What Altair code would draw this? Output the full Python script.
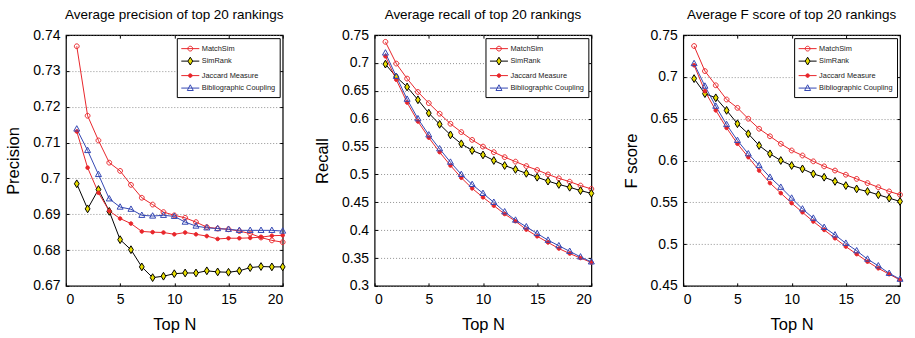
import altair as alt
import pandas as pd

top_n = list(range(1, 21))
methods = ["MatchSim", "SimRank", "Jaccard Measure", "Bibliographic Coupling"]

# Precision
prec_matchsim = [0.7369, 0.7175, 0.7106, 0.7044, 0.7021, 0.6982, 0.6946, 0.6927, 0.6906, 0.6897,
                 0.6890, 0.6878, 0.6864, 0.6860, 0.6858, 0.6853, 0.6846, 0.6835, 0.6827, 0.6822]
prec_simrank = [0.6985, 0.6915, 0.6969, 0.6908, 0.6829, 0.6801, 0.6753, 0.6723, 0.6727, 0.6734,
                0.6736, 0.6736, 0.6742, 0.6739, 0.6738, 0.6742, 0.6751, 0.6754, 0.6753, 0.6753]
prec_jaccard = [0.7131, 0.7030, 0.6960, 0.6909, 0.6888, 0.6874, 0.6852, 0.6850, 0.6849, 0.6844,
                0.6849, 0.6844, 0.6839, 0.6831, 0.6833, 0.6833, 0.6834, 0.6836, 0.6840, 0.6841]
prec_biblio = [0.7138, 0.7078, 0.7011, 0.6943, 0.6920, 0.6914, 0.6897, 0.6895, 0.6897, 0.6894,
               0.6878, 0.6867, 0.6862, 0.6860, 0.6858, 0.6855, 0.6855, 0.6855, 0.6855, 0.6853]

# Recall
rec_matchsim = [0.738, 0.699, 0.672, 0.648, 0.628, 0.609, 0.591, 0.576, 0.562, 0.550,
                0.540, 0.531, 0.523, 0.515, 0.508, 0.500, 0.493, 0.487, 0.480, 0.474]
rec_simrank = [0.698, 0.675, 0.657, 0.634, 0.610, 0.590, 0.571, 0.555, 0.543, 0.535,
               0.525, 0.516, 0.509, 0.502, 0.495, 0.488, 0.482, 0.477, 0.471, 0.466]
rec_jaccard = [0.712, 0.670, 0.629, 0.595, 0.566, 0.540, 0.516, 0.494, 0.475, 0.459,
               0.444, 0.429, 0.416, 0.401, 0.389, 0.378, 0.367, 0.358, 0.350, 0.342]
rec_biblio = [0.718, 0.676, 0.635, 0.600, 0.571, 0.546, 0.522, 0.500, 0.482, 0.466,
              0.450, 0.433, 0.418, 0.406, 0.394, 0.382, 0.372, 0.362, 0.352, 0.343]

# F score
f_matchsim = [0.737, 0.707, 0.690, 0.673, 0.663, 0.650, 0.638, 0.629, 0.620, 0.612,
              0.606, 0.599, 0.593, 0.588, 0.583, 0.578, 0.573, 0.568, 0.563, 0.559]
f_simrank = [0.698, 0.680, 0.675, 0.660, 0.644, 0.632, 0.618, 0.608, 0.600, 0.594,
             0.590, 0.584, 0.580, 0.575, 0.570, 0.566, 0.563, 0.559, 0.555, 0.551]
f_jaccard = [0.714, 0.683, 0.660, 0.639, 0.620, 0.604, 0.588, 0.573, 0.561, 0.549,
             0.538, 0.527, 0.517, 0.507, 0.497, 0.488, 0.479, 0.471, 0.464, 0.457]
f_biblio = [0.716, 0.689, 0.665, 0.643, 0.624, 0.608, 0.594, 0.580, 0.568, 0.555,
            0.542, 0.531, 0.520, 0.511, 0.501, 0.492, 0.482, 0.474, 0.465, 0.458]

x_ticks = [0, 5, 10, 15, 20]
prec_ticks = [0.67, 0.68, 0.69, 0.70, 0.71, 0.72, 0.73, 0.74]
rec_ticks = [0.30, 0.35, 0.40, 0.45, 0.50, 0.55, 0.60, 0.65, 0.70, 0.75]
f_ticks = [0.45, 0.50, 0.55, 0.60, 0.65, 0.70, 0.75]

RED = "#e8262b"
BLUE = "#3447b3"
YELLOW = "#e8de00"
FONT = "Liberation Sans"

stroke_colors = [RED, "black", RED, BLUE]
fill_colors = ["transparent", YELLOW, RED, "transparent"]
point_shapes = [
    "M0.8,0A0.8,0.8 0 1,1 -0.8,0A0.8,0.8 0 1,1 0.8,0Z",
    "M0,-1.3L0.8,0L0,1.3L-0.8,0Z",
    "M0.6,0A0.6,0.6 0 1,1 -0.6,0A0.6,0.6 0 1,1 0.6,0Z",
    "M0,-1.1L1,0.7L-1,0.7Z",
]
# legend glyphs: a short line with the marker in its middle (unit = 6 px)
legend_shapes = [
    "M-1,0H2M0.9,0A0.4,0.4 0 1,1 0.1,0A0.4,0.4 0 1,1 0.9,0Z",
    "M-1,0H0.1M0.9,0H2M0.5,-0.65L0.9,0L0.5,0.65L0.1,0Z",
    "M-1,0H2M0.8,0A0.3,0.3 0 1,1 0.2,0A0.3,0.3 0 1,1 0.8,0Z",
    "M-1,0H2M0.5,-0.55L1,0.4L0,0.4Z",
]


def make_df(series):
    rows = []
    for name, vals in zip(methods, series):
        for n, v in zip(top_n, vals):
            rows.append({"topn": n, "value": v, "method": name, "lmethod": name})
    return pd.DataFrame(rows)


def panel(series, title, ytitle, ydomain, yticks):
    df = make_df(series)
    xscale = alt.Scale(domain=[0, 20], nice=False)
    yscale = alt.Scale(domain=ydomain, nice=False, zero=False)
    x = alt.X(
        "topn:Q", scale=xscale,
        axis=alt.Axis(
            values=x_ticks, format="d", grid=False, domain=False,
            tickSize=3, offset=-3, tickColor="black", tickWidth=1,
            labelPadding=7, labelFontSize=14, labelFont=FONT, labelColor="black",
            title="Top N", titleFontSize=16.5, titleFont=FONT, titleFontWeight="normal",
            titleColor="black", titlePadding=10,
        ),
    )
    y = alt.Y(
        "value:Q", scale=yscale,
        axis=alt.Axis(
            values=yticks, format="~g", grid=True, gridDash=[1, 2], gridColor="#777777",
            gridWidth=0.8, domain=False, tickSize=3, offset=-3, tickColor="black", tickWidth=1,
            labelPadding=6, labelFontSize=14, labelFont=FONT, labelColor="black",
            title=ytitle, titleFontSize=16.5, titleFont=FONT, titleFontWeight="normal",
            titleColor="black", titlePadding=11,
        ),
    )
    # mirrored inward ticks on the top and right frame edges
    x_top = alt.X(
        "topn:Q", scale=xscale,
        axis=alt.Axis(orient="top", values=x_ticks, labels=False, title=None, grid=False,
                      domain=False, tickSize=3, offset=-3, tickColor="black", tickWidth=1),
    )
    y_right = alt.Y(
        "value:Q", scale=yscale,
        axis=alt.Axis(orient="right", values=yticks, labels=False, title=None, grid=False,
                      domain=False, tickSize=3, offset=-3, tickColor="black", tickWidth=1),
    )
    x_none = alt.X("topn:Q", scale=xscale, axis=None)
    y_none = alt.Y("value:Q", scale=yscale, axis=None)

    base = alt.Chart(df)
    lines = base.mark_line(strokeWidth=1).encode(
        x=x, y=y,
        stroke=alt.Stroke("method:N", scale=alt.Scale(domain=methods, range=stroke_colors), legend=None),
        detail="method:N",
    )
    points = base.mark_point(filled=True, size=36, strokeWidth=1, opacity=1).encode(
        x=x_none, y=y_none,
        shape=alt.Shape("method:N", scale=alt.Scale(domain=methods, range=point_shapes), legend=None),
        fill=alt.Fill("method:N", scale=alt.Scale(domain=methods, range=fill_colors), legend=None),
        stroke=alt.Stroke("method:N", scale=alt.Scale(domain=methods, range=stroke_colors), legend=None),
    )
    leg = alt.Legend(title=None, symbolOpacity=1)
    legend_layer = base.mark_point(filled=True, size=144, strokeWidth=1, opacity=0).encode(
        x=x_top, y=y_right,
        shape=alt.Shape("lmethod:N", scale=alt.Scale(domain=methods, range=legend_shapes), legend=leg),
        fill=alt.Fill("lmethod:N", scale=alt.Scale(domain=methods, range=fill_colors), legend=leg),
        stroke=alt.Stroke("lmethod:N", scale=alt.Scale(domain=methods, range=stroke_colors), legend=leg),
    )
    return alt.layer(lines, points, legend_layer).resolve_scale(
        stroke="independent", fill="independent", shape="independent"
    ).resolve_axis(
        x="independent", y="independent"
    ).properties(
        width=217, height=251,
        title=alt.TitleParams(text=title, fontSize=13.5, font=FONT, fontWeight="normal",
                              color="black", offset=7),
    )


p1 = panel([prec_matchsim, prec_simrank, prec_jaccard, prec_biblio],
           "Average precision of top 20 rankings", "Precision", [0.67, 0.74], prec_ticks)
p2 = panel([rec_matchsim, rec_simrank, rec_jaccard, rec_biblio],
           "Average recall of top 20 rankings", "Recall", [0.3, 0.75], rec_ticks)
p3 = panel([f_matchsim, f_simrank, f_jaccard, f_biblio],
           "Average F score of top 20 rankings", "F score", [0.45, 0.75], f_ticks)

chart = alt.hconcat(p1, p2, p3, spacing=18).resolve_scale(
    stroke="independent", fill="independent", shape="independent"
).properties(
    padding={"left": 5, "top": 6, "right": 2, "bottom": 2}
).configure_view(
    stroke="black", strokeWidth=1.2
).configure_legend(
    orient="top-right", offset=3, strokeColor="black", fillColor="white", padding=4,
    labelFont=FONT, labelFontSize=7.4, labelColor="#222222", symbolSize=144,
    symbolStrokeWidth=1, rowPadding=1.5, labelOffset=8, cornerRadius=0,
)

chart.save("out.html", embed_options={"renderer": "svg", "actions": False})
